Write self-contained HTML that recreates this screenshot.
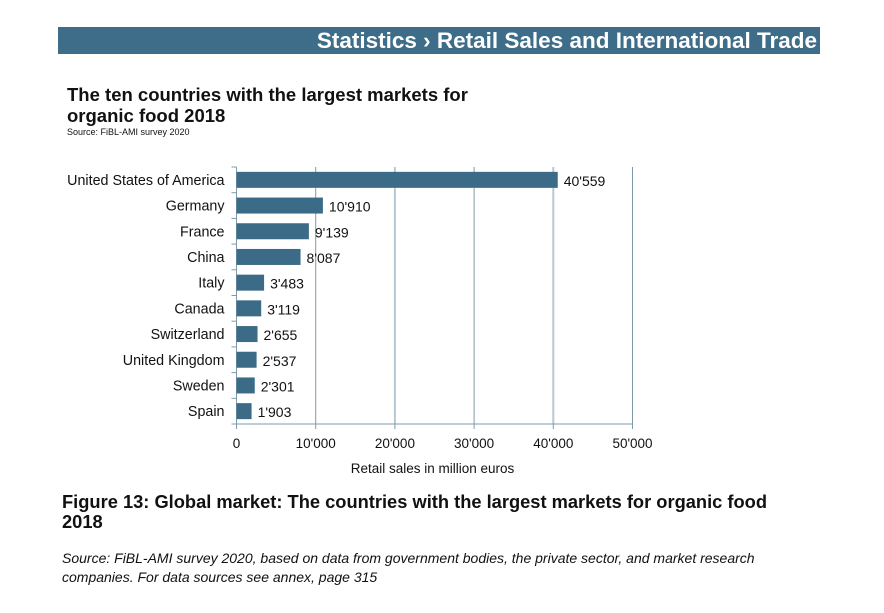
<!DOCTYPE html>
<html><head><meta charset="utf-8"><style>
body{margin:0;width:884px;height:613px;background:#fff;font-family:"Liberation Sans",sans-serif;position:relative;overflow:hidden}
.abs{position:absolute}
</style></head><body>
<div class="abs" style="left:58px;top:27px;width:762px;height:27px;background:#3d6d88;color:#fff;font-weight:bold;font-size:22.5px;line-height:27px;text-align:right;box-sizing:border-box;padding-right:3px;white-space:nowrap">Statistics › Retail Sales and International Trade</div>
<div class="abs" style="left:67px;top:84px;font-weight:bold;font-size:18.5px;line-height:21px;color:#111;white-space:nowrap">The ten countries with the largest markets for<br>organic food 2018</div>
<div class="abs" style="left:67px;top:127px;font-size:9px;color:#111">Source: FiBL-AMI survey 2020</div>
<svg class="abs" style="left:0;top:0" width="884" height="613" id="chart"></svg>
<div class="abs" style="left:62px;top:492px;font-weight:bold;font-size:18.3px;line-height:20px;color:#111;white-space:nowrap">Figure 13: Global market: The countries with the largest markets for organic food<br>2018</div>
<div class="abs" style="left:62px;top:549px;font-style:italic;font-size:14px;line-height:19px;color:#111">Source: FiBL-AMI survey 2020, based on data from government bodies, the private sector, and market research<br>companies. For data sources see annex, page 315</div>
<script>
const categories=["United States of America","Germany","France","China","Italy","Canada","Switzerland","United Kingdom","Sweden","Spain"];
const values=[40559,10910,9139,8087,3483,3119,2655,2537,2301,1903];
const valueLabels=["40'559","10'910","9'139","8'087","3'483","3'119","2'655","2'537","2'301","1'903"];
const ticks=[0,10000,20000,30000,40000,50000];
const tickLabels=["0","10'000","20'000","30'000","40'000","50'000"];
const svg=document.getElementById('chart');
const NS='http://www.w3.org/2000/svg';
const X0=236.5,X1=632.5,Y0=167,Y1=424,XMAX=50000;
const x=v=>X0+(X1-X0)*v/XMAX;
const band=(Y1-Y0)/categories.length;
const y=i=>Y0+band*i;
function el(t,a){const e=document.createElementNS(NS,t);for(const k in a)e.setAttribute(k,a[k]);svg.appendChild(e);return e;}
ticks.forEach((t,i)=>{
 if(i>0){const g=el('line',{x1:x(t),x2:x(t),y1:Y0,y2:Y1,stroke:i%2?'#7f9bab':'#b5c8d3','stroke-width':i%2?1:2});
 
 }
 const tk=el('line',{x1:x(t),x2:x(t),y1:Y1,y2:Y1+5,stroke:'#7f9bab'});
 
 
 const tl=el('text',{x:x(t),y:Y1+24,'text-anchor':'middle','font-size':13.5,fill:'#111','font-family':'Liberation Sans, sans-serif'});
 tl.textContent=tickLabels[i];
 
 
});
const ax=el('line',{x1:X0,x2:X1,y1:Y1,y2:Y1,stroke:'#7f9bab'});


const ay=el('line',{x1:X0,x2:X0,y1:Y0,y2:Y1,stroke:'#7f9bab'});


for(let i=0;i<=categories.length;i++){const t=el('line',{x1:X0-5,x2:X0,y1:y(i),y2:y(i),stroke:'#7f9bab'});
 
 }
categories.forEach((c,i)=>{
 const cy=y(i)+band/2;
 const b=el('rect',{x:X0,y:cy-8,width:x(values[i])-X0,height:16,fill:'#3b6b86'});
 
 
 const l=el('text',{x:X0-12,y:cy+5,'text-anchor':'end','font-size':14.3,fill:'#111','font-family':'Liberation Sans, sans-serif'});
 l.textContent=c;
 
 
 const v=el('text',{x:x(values[i])+6,y:cy+6,'font-size':14,fill:'#111','font-family':'Liberation Sans, sans-serif'});
 v.textContent=valueLabels[i];
 
 
});
const xt=el('text',{x:(X0+X1)/2-2,y:473,'text-anchor':'middle','font-size':13.5,fill:'#111','font-family':'Liberation Sans, sans-serif'});
xt.textContent='Retail sales in million euros';


</script>
</body></html>
